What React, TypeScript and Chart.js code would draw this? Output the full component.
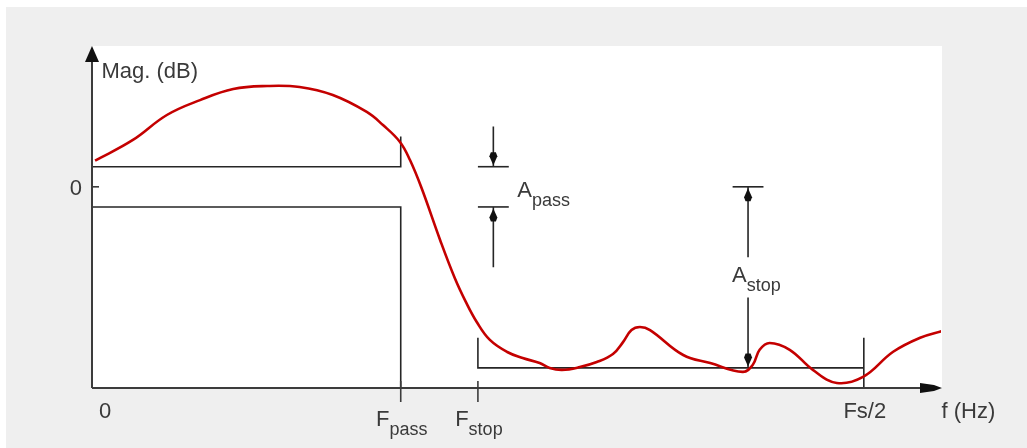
import React, { useEffect, useRef } from 'react';
import { Chart, registerables } from 'chart.js';

Chart.register(...registerables);

// ---- data (normalised frequency, Fs/2 = 1; magnitude in arbitrary dB units) ----
const freq = [
  0.004, 0.053, 0.097, 0.14, 0.183, 0.227, 0.269, 0.312, 0.356, 0.377, 0.399, 0.412,
  0.427, 0.451, 0.47, 0.4845, 0.4987, 0.5155, 0.538, 0.558, 0.58, 0.593, 0.609, 0.632,
  0.654, 0.675, 0.688, 0.699, 0.71, 0.723, 0.766, 0.801, 0.843, 0.856, 0.865, 0.878,
  0.904, 0.934, 0.965, 0.999, 1.038, 1.073, 1.102,
];
const magnitudeDb = [
  1.3, 2.33, 3.57, 4.31, 4.86, 5.01, 4.96, 4.56, 3.72, 3.07, 2.23, 1.33,
  -0.06, -2.64, -4.53, -5.73, -6.73, -7.61, -8.21, -8.51, -8.76, -9.0, -9.1, -8.96,
  -8.71, -8.31, -7.72, -7.12, -6.97, -7.12, -8.36, -8.76, -9.2, -8.86, -8.1, -7.76,
  -8.1, -9.1, -9.75, -9.45, -8.2, -7.5, -7.16,
];

// specification mask
const passUpperX = [0, 0.4, 0.4];
const passUpperY = [1, 1, 2.5];
const passLowerX = [0, 0.4, 0.4];
const passLowerY = [-1, -1, -10];
const stopMaskX = [0.5, 0.5, 1.0, 1.0, 1.0];
const stopMaskY = [-7.5, -9, -9, -7.5, -10];

// A_pass dimension marks
const apassBarX = [0.5, 0.54];
const apassArrowX = 0.52;
const apassTopY = [3, 1];
const apassBottomY = [-1, -4];
const apassLevels = [1, -1];

// A_stop dimension marks
const astopBarX = [0.83, 0.87];
const astopArrowX = 0.85;
const astopTopY = [0, -3.5];
const astopBottomY = [-5.5, -9];

// axes
const xRange = [0, 1.1];
const yRange = [-10, 7];
const xTickValues = [0, 0.4, 0.5, 1.0];
const xTickMain = ['0', 'F', 'F', 'Fs/2'];
const xTickSub = ['', 'pass', 'stop', ''];
const xTickMarked = [false, true, true, false];
const yTickValues = [0];
const yTickLabels = ['0'];
const yAxisTitle = 'Mag. (dB)';
const xAxisTitle = 'f (Hz)';

const pts = (xs: number[], ys: number[]) => xs.map((x, i) => ({ x, y: ys[i] }));

const FONT = '"Liberation Sans", Arial, Helvetica, sans-serif';
const MAIN_FONT = `22px ${FONT}`;
const SUB_FONT = `18px ${FONT}`;
const TEXT_COLOR = '#3a3a3a';
const AXIS_COLOR = '#3c3c3c';
const MASK_COLOR = '#262626';

function maskSet(data: { x: number; y: number }[]) {
  return {
    data,
    showLine: true,
    borderColor: MASK_COLOR,
    borderWidth: 1.6,
    pointRadius: 0,
    tension: 0,
    clip: false as const,
  };
}

const diagramPlugin = {
  id: 'diagram',
  beforeDraw(chart: any) {
    const { ctx, chartArea: ca, width, height } = chart;
    ctx.save();
    ctx.fillStyle = '#ffffff';
    ctx.fillRect(0, 0, width, height);
    ctx.fillStyle = '#efefef';
    ctx.fillRect(6, 7, width - 6, height - 7);
    ctx.fillStyle = '#ffffff';
    ctx.fillRect(ca.left, ca.top, ca.right - ca.left + 1, ca.bottom - ca.top);
    ctx.restore();
  },
  afterDatasetsDraw(chart: any) {
    const { ctx, chartArea: ca, scales } = chart;
    const xs = scales.x;
    const ys = scales.y;
    const px = (v: number) => xs.getPixelForValue(v);
    const py = (v: number) => ys.getPixelForValue(v);
    ctx.save();

    // axes
    const x0 = px(xRange[0]);
    const y0 = py(yRange[0]);
    ctx.strokeStyle = AXIS_COLOR;
    ctx.fillStyle = '#111';
    ctx.lineWidth = 2;
    ctx.beginPath();
    ctx.moveTo(x0, y0);
    ctx.lineTo(x0, ca.top + 4);
    ctx.moveTo(x0, y0);
    ctx.lineTo(ca.right - 10, y0);
    ctx.stroke();
    // y arrow
    ctx.beginPath();
    ctx.moveTo(x0, ca.top);
    ctx.lineTo(x0 - 7, ca.top + 16);
    ctx.lineTo(x0 + 7, ca.top + 16);
    ctx.closePath();
    ctx.fill();
    // x arrow
    ctx.beginPath();
    ctx.moveTo(ca.right + 1, y0);
    ctx.lineTo(ca.right - 7, y0 - 3);
    ctx.lineTo(ca.right - 21, y0 - 5);
    ctx.lineTo(ca.right - 21, y0 + 5);
    ctx.lineTo(ca.right - 7, y0 + 3);
    ctx.closePath();
    ctx.fill();

    // ticks
    ctx.strokeStyle = AXIS_COLOR;
    ctx.lineWidth = 1.6;
    yTickValues.forEach((v) => {
      ctx.beginPath();
      ctx.moveTo(x0, py(v));
      ctx.lineTo(x0 + 7, py(v));
      ctx.stroke();
    });
    xTickValues.forEach((v, i) => {
      if (!xTickMarked[i]) return;
      ctx.beginPath();
      ctx.moveTo(px(v), y0 - 7);
      ctx.lineTo(px(v), y0 + 14);
      ctx.stroke();
    });

    // dimension arrowheads
    const head = (x: number, tip: number, dir: number) => {
      ctx.fillStyle = '#111';
      ctx.beginPath();
      ctx.moveTo(x, tip);
      ctx.lineTo(x + 4, tip - dir * 9);
      ctx.lineTo(x + 2.5, tip - dir * 13);
      ctx.lineTo(x - 2.5, tip - dir * 13);
      ctx.lineTo(x - 4, tip - dir * 9);
      ctx.closePath();
      ctx.fill();
    };
    head(px(apassArrowX), py(apassLevels[0]) - 1.5, 1);
    head(px(apassArrowX), py(apassLevels[1]) + 1.5, -1);
    head(px(astopArrowX), py(astopTopY[0]) + 1.5, -1);
    head(px(astopArrowX), py(astopBottomY[1]) - 1.5, 1);

    // text
    ctx.fillStyle = TEXT_COLOR;
    ctx.textBaseline = 'alphabetic';
    const sub = (x: number, base: number, main: string, s: string, center: boolean) => {
      ctx.font = MAIN_FONT;
      const wm = ctx.measureText(main).width;
      ctx.font = SUB_FONT;
      const ws = s ? ctx.measureText(s).width : 0;
      const left = center ? x - (wm + ws) / 2 : x;
      ctx.textAlign = 'left';
      ctx.font = MAIN_FONT;
      ctx.fillText(main, left, base);
      if (s) {
        ctx.font = SUB_FONT;
        ctx.fillText(s, left + wm, base + 9);
      }
    };

    // y axis title + tick labels
    ctx.font = MAIN_FONT;
    ctx.textAlign = 'left';
    ctx.fillText(yAxisTitle, x0 + 9.5, ca.top + 32);
    ctx.textAlign = 'right';
    yTickLabels.forEach((t, i) => {
      ctx.fillText(t, x0 - 10, py(yTickValues[i]) + 8);
    });

    // x tick labels
    xTickValues.forEach((v, i) => {
      const base = y0 + 30;
      if (i === 0) {
        sub(px(v) + 7, base, xTickMain[i], xTickSub[i], false);
      } else {
        sub(px(v) + 1, base + (xTickSub[i] ? 8 : 0), xTickMain[i], xTickSub[i], true);
      }
    });
    ctx.font = MAIN_FONT;
    ctx.textAlign = 'left';
    ctx.fillText(xAxisTitle, ca.right + 0.5, y0 + 30);

    // A_pass / A_stop labels
    sub(px(apassArrowX) + 24, py(0) + 10, 'A', 'pass', false);
    sub(px(astopArrowX) - 16, py(-4.75), 'A', 'stop', false);

    ctx.restore();
  },
};

export default function App() {
  const canvasRef = useRef<HTMLCanvasElement | null>(null);

  useEffect(() => {
    if (!canvasRef.current) return;
    const chart = new Chart(canvasRef.current, {
      type: 'scatter',
      data: {
        datasets: [
          {
            data: pts(freq, magnitudeDb),
            showLine: true,
            borderColor: '#c40000',
            borderWidth: 2.6,
            pointRadius: 0,
            tension: 0.4,
          },
          maskSet(pts(passUpperX, passUpperY)),
          maskSet(pts(passLowerX, passLowerY)),
          maskSet(pts(stopMaskX, stopMaskY)),
          maskSet(pts(apassBarX, [apassLevels[0], apassLevels[0]])),
          maskSet(pts(apassBarX, [apassLevels[1], apassLevels[1]])),
          maskSet(pts([apassArrowX, apassArrowX], apassTopY)),
          maskSet(pts([apassArrowX, apassArrowX], apassBottomY)),
          maskSet(pts(astopBarX, [astopTopY[0], astopTopY[0]])),
          maskSet(pts([astopArrowX, astopArrowX], astopTopY)),
          maskSet(pts([astopArrowX, astopArrowX], astopBottomY)),
        ] as any,
      },
      options: {
        responsive: false,
        devicePixelRatio: 1,
        animation: false,
        layout: { padding: { left: 92, top: 46, right: 86, bottom: 60 } },
        plugins: { legend: { display: false }, tooltip: { enabled: false } },
        scales: {
          x: { type: 'linear', min: xRange[0], max: xRange[1], display: false },
          y: { type: 'linear', min: yRange[0], max: yRange[1], display: false },
        },
        events: [],
      },
      plugins: [diagramPlugin],
    });
    return () => chart.destroy();
  }, []);

  return (
    <div style={{ position: 'absolute', left: 0, top: 0, width: 1027, height: 448 }}>
      <canvas ref={canvasRef} width={1027} height={448} style={{ display: 'block' }} />
    </div>
  );
}
